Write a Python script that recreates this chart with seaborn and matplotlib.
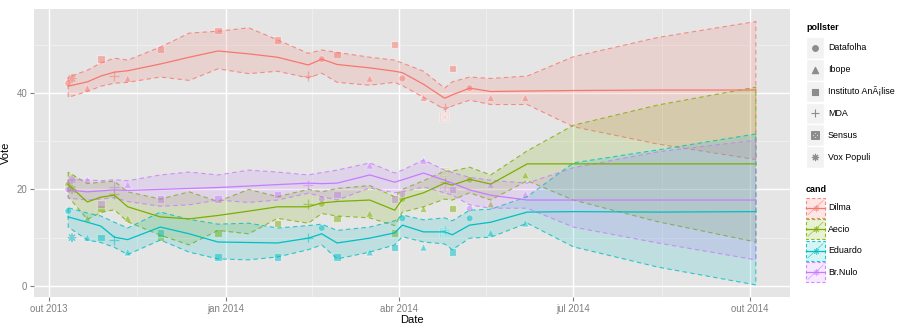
import matplotlib
matplotlib.use("Agg")
import numpy as np
import pandas as pd
import seaborn as sns
import matplotlib.pyplot as plt
from matplotlib.patches import Rectangle
from matplotlib.colors import to_rgba

# --- Data ---
candidates = ["Dilma", "Aecio", "Eduardo", "Br.Nulo"]
cand_colors = ["#F8766D", "#7CAE00", "#00BFC4", "#C77CFF"]
pollsters = ["Datafolha", "Ibope", "Instituto AnÃ¡lise", "MDA", "Sensus", "Vox Populi"]

# individual polls
poll_dates = ["2013-10-11", "2013-10-13", "2013-10-21", "2013-10-28", "2013-11-04",
              "2013-11-11", "2013-11-28", "2013-12-28", "2014-01-28", "2014-02-13",
              "2014-02-20", "2014-02-28", "2014-03-17", "2014-03-30", "2014-04-03",
              "2014-04-14", "2014-04-25", "2014-04-25", "2014-04-29", "2014-05-08",
              "2014-05-19", "2014-06-06"]
poll_house = ["Datafolha", "Vox Populi", "Ibope", "Instituto AnÃ¡lise", "MDA",
              "Ibope", "Instituto AnÃ¡lise", "Instituto AnÃ¡lise", "Instituto AnÃ¡lise", "MDA",
              "Datafolha", "Instituto AnÃ¡lise", "Ibope", "Instituto AnÃ¡lise", "Datafolha",
              "Ibope", "MDA", "Sensus", "Instituto AnÃ¡lise", "Datafolha",
              "Ibope", "Ibope"]
poll_dilma = [42, 43, 41, 47, 43.5, 43, 49, 53, 51, 43.5, 47, 48, 43, 50, 43,
              39, 37, 35, 45, 41, 39, 39]
poll_aecio = [21, 20, 14, 16, 19, 14, 10, 11, 13, 17, 17, 14, 15, 11, 18,
              16, 21.5, 23.5, 16, 22, 17, 23]
poll_eduardo = [15.5, 10, 10, 10, 9.5, 7, 11, 6, 6, 10, 12, 6, 7, 8, 14,
                8, 11.5, 11, 7, 14, 11, 13]
poll_brnulo = [20, 22, 22, 17, 20.5, 21, 18, 18, 19, 21, 18, 19, 25, 18, 19,
               26, 20.5, 20, 20, 16, 21, 19]

# smoothed trend (fit, lower, upper) read at these dates
smooth_dates = ["2013-10-11", "2013-10-21", "2013-10-28", "2013-11-04", "2013-11-11",
                "2013-11-28", "2013-12-13", "2013-12-28", "2014-01-13", "2014-01-28",
                "2014-02-13", "2014-02-20", "2014-02-28", "2014-03-17", "2014-03-30",
                "2014-04-03", "2014-04-14", "2014-04-25", "2014-04-29", "2014-05-08",
                "2014-05-19", "2014-06-07", "2014-07-01", "2014-08-14", "2014-10-04"]
dilma_fit = [41.4, 42.3, 43.5, 44.3, 44.6, 46.0, 47.4, 48.7, 48.1, 47.4, 45.8, 47.0, 45.9,
             45.2, 44.5, 44.2, 41.8, 38.9, 39.6, 41.0, 40.3, 40.4, 40.5, 40.6, 40.6]
dilma_lo = [39.1, 40.3, 41.4, 42.0, 42.2, 43.3, 42.6, 45.0, 44.0, 44.5, 43.1, 44.1, 42.2,
            41.6, 42.2, 41.5, 39.1, 36.6, 37.3, 38.5, 37.6, 37.6, 33.0, 29.4, 26.2]
dilma_hi = [43.3, 44.7, 46.2, 47.2, 46.8, 49.5, 52.4, 52.8, 53.5, 51.0, 48.2, 48.9, 48.4,
            47.4, 46.8, 46.2, 44.5, 41.0, 42.3, 43.3, 43.0, 43.5, 47.5, 51.5, 54.8]
aecio_fit = [21.0, 17.4, 18.4, 18.8, 16.4, 14.3, 13.9, 14.6, 15.5, 16.4, 16.4, 17.2, 17.5,
             17.8, 15.7, 18.0, 19.3, 21.3, 20.9, 22.1, 21.1, 25.3, 25.3, 25.3, 25.3]
aecio_lo = [18.5, 13.8, 15.2, 15.8, 13.3, 10.5, 8.5, 11.5, 10.8, 14.0, 13.0, 15.0, 14.5,
            14.1, 12.5, 15.3, 16.4, 18.0, 17.8, 19.3, 17.8, 21.8, 17.8, 13.3, 9.1]
aecio_hi = [23.6, 21.2, 21.5, 21.7, 19.5, 18.0, 19.5, 17.5, 20.0, 18.5, 20.0, 19.5, 20.2,
            20.8, 18.5, 20.0, 21.8, 23.8, 23.8, 24.6, 23.0, 28.0, 33.3, 37.5, 41.2]
eduardo_fit = [14.3, 13.2, 12.4, 10.1, 9.6, 12.2, 10.8, 9.1, 9.0, 8.9, 9.9, 10.8, 8.9,
               9.9, 11.0, 12.6, 11.2, 11.2, 10.6, 12.6, 13.2, 15.3, 15.4, 15.3, 15.4]
eduardo_lo = [12.2, 9.5, 9.0, 8.0, 6.5, 9.5, 7.0, 5.6, 5.4, 6.0, 7.5, 8.5, 5.6,
              7.0, 8.5, 10.2, 9.1, 8.7, 7.5, 9.9, 10.1, 13.0, 8.1, 3.9, 0.2]
eduardo_hi = [16.2, 15.1, 14.5, 13.2, 12.0, 15.3, 13.8, 12.8, 13.0, 12.0, 12.5, 12.8, 11.5,
              12.2, 13.5, 14.7, 13.7, 14.1, 13.5, 15.7, 15.9, 18.5, 25.5, 28.2, 31.5]
brnulo_fit = [19.9, 19.5, 19.7, 19.9, 19.8, 20.0, 20.2, 20.4, 20.7, 21.0, 21.3, 21.2, 21.3,
              23.0, 21.5, 22.0, 23.4, 21.9, 21.3, 19.9, 18.8, 17.8, 17.8, 17.8, 17.8]
brnulo_lo = [18.2, 17.8, 18.0, 18.3, 17.5, 16.5, 16.8, 17.8, 17.3, 17.8, 19.2, 18.5, 17.8,
             20.3, 19.3, 19.5, 20.5, 19.3, 18.8, 16.8, 16.1, 16.1, 12.2, 8.9, 5.4]
brnulo_hi = [22.0, 22.0, 21.8, 22.0, 21.8, 23.0, 23.6, 23.0, 24.0, 23.6, 23.0, 23.5, 24.0,
             25.5, 23.4, 24.0, 26.1, 24.0, 23.5, 22.5, 21.9, 21.3, 24.5, 27.8, 30.2]

# x axis ticks
tick_dates = ["2013-10-01", "2014-01-01", "2014-04-01", "2014-07-01", "2014-10-01"]
tick_labels = ["out 2013", "jan 2014", "abr 2014", "jul 2014", "out 2014"]

# --- Build tables ---
n = len(smooth_dates)
fit_df = pd.DataFrame({
    "date": pd.to_datetime(smooth_dates * 4),
    "cand": np.repeat(candidates, n),
    "fit": dilma_fit + aecio_fit + eduardo_fit + brnulo_fit,
    "lo": dilma_lo + aecio_lo + eduardo_lo + brnulo_lo,
    "hi": dilma_hi + aecio_hi + eduardo_hi + brnulo_hi,
})
m = len(poll_dates)
pts_df = pd.DataFrame({
    "date": pd.to_datetime(poll_dates * 4),
    "pollster": poll_house * 4,
    "cand": np.repeat(candidates, m),
    "vote": poll_dilma + poll_aecio + poll_eduardo + poll_brnulo,
})

palette = dict(zip(candidates, cand_colors))
markers = {"Datafolha": "o", "Ibope": "^", "Instituto AnÃ¡lise": "s", "MDA": "+",
           "Sensus": r"$\boxtimes$", "Vox Populi": (8, 2, 0)}
msizes = {"Datafolha": 24, "Ibope": 30, "Instituto AnÃ¡lise": 28, "MDA": 48,
          "Sensus": 45, "Vox Populi": 30}

# --- Style ---
plt.rcParams["font.family"] = ["Liberation Sans", "DejaVu Sans"]
W, H = 902, 328
fig = plt.figure(figsize=(W / 100, H / 100), dpi=100)
ax = fig.add_axes([34 / W, 1 - 297 / H, (790 - 34) / W, (297 - 9) / H])
ax.set_facecolor("#E5E5E5")
for s in ax.spines.values():
    s.set_visible(False)

# ribbons (dashed outline like the ggplot ribbon)
for cand, col in zip(candidates, cand_colors):
    sub = fit_df[fit_df["cand"] == cand]
    ax.fill_between(sub["date"], sub["lo"], sub["hi"],
                    facecolor=to_rgba(col, 0.17), edgecolor=to_rgba(col, 0.8),
                    linestyle=(0, (4, 3)), linewidth=0.8, zorder=3)

# points
for p in pollsters:
    sub = pts_df[pts_df["pollster"] == p]
    sns.scatterplot(data=sub, x="date", y="vote", hue="cand", palette=palette,
                    marker=markers[p], s=msizes[p], alpha=0.5, linewidth=0.9,
                    legend=False, ax=ax, zorder=2)

# smooth lines
sns.lineplot(data=fit_df, x="date", y="fit", hue="cand", palette=palette,
             linewidth=0.9, legend=False, ax=ax, zorder=4)

# axes
ax.set_ylim(-2.3, 57.4)
ax.set_xlim(pd.Timestamp("2013-09-23 05:00"), pd.Timestamp("2014-10-21 19:00"))
tick_ts = pd.to_datetime(tick_dates)
ax.set_xticks(tick_ts, tick_labels)
mids = tick_ts[:-1] + (tick_ts[1:] - tick_ts[:-1]) / 2
ax.set_xticks(mids, minor=True)
ax.set_yticks([0, 20, 40])
ax.set_yticks([10, 30, 50], minor=True)
ax.grid(which="major", color="white", linewidth=1.0, zorder=0)
ax.grid(which="minor", color="#F2F2F2", linewidth=0.5, zorder=0)
ax.set_axisbelow(True)
ax.tick_params(which="major", length=3, width=0.8, color="#7F7F7F",
               labelsize=6.9, labelcolor="#7F7F7F", pad=2)
ax.tick_params(which="minor", length=0)
ax.set_xlabel("Date", fontsize=8, labelpad=1)
ax.set_ylabel("Vote", fontsize=8, labelpad=4)

# --- Legends drawn in pixel space ---
lax = fig.add_axes([0, 0, 1, 1], facecolor="none")
lax.set_xlim(0, W)
lax.set_ylim(H, 0)
lax.axis("off")

lax.text(806, 27, "pollster", fontsize=6.5, fontweight="bold", va="center")
for i, p in enumerate(pollsters):
    yc = 48 + i * 21.8
    lax.add_patch(Rectangle((806, yc - 10.9), 18, 21.8, facecolor="#F2F2F2",
                            edgecolor="white", linewidth=1))
    lax.scatter([815], [yc], marker=markers[p], s=msizes[p] * 0.7, color="#8C8C8C",
                linewidth=0.8)
    lax.text(828, yc, p, fontsize=6.4, va="center")

lax.text(806, 189, "cand", fontsize=6.5, fontweight="bold", va="center")
for i, (c, col) in enumerate(zip(candidates, cand_colors)):
    yc = 207.7 + i * 21.5
    lax.add_patch(Rectangle((806, yc - 10), 19, 20, facecolor=to_rgba(col, 0.17),
                            edgecolor=to_rgba(col, 0.85), linestyle=(0, (3, 2)),
                            linewidth=0.8))
    lax.plot([806, 825], [yc, yc], color=col, linewidth=0.9)
    lax.plot([808, 823], [yc + 7, yc - 7], color=col, linewidth=0.6, alpha=0.6)
    lax.scatter([815.5], [yc], marker=(8, 2, 0), s=18, color=col, alpha=0.6, linewidth=0.7)
    lax.text(828, yc, c, fontsize=6.4, va="center")

fig.savefig("out.png", dpi=100)
